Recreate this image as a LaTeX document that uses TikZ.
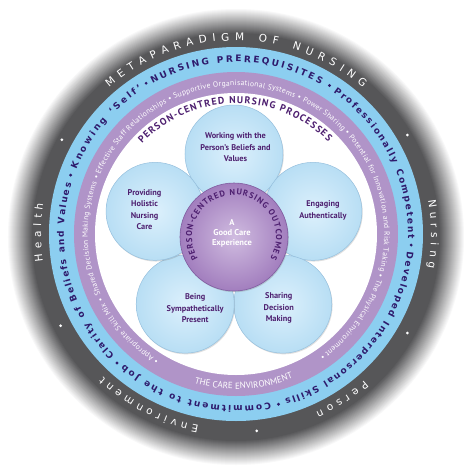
\documentclass[tikz,border=0pt]{standalone}
\usepackage{fontspec}
\setmainfont{PT Sans}
\newfontfamily\ringfont{DejaVu Sans}
\usetikzlibrary{decorations.text,shadows,positioning}

\definecolor{ringgray}{RGB}{86,86,88}
\definecolor{ringblue}{RGB}{140,206,240}
\definecolor{ringlilac}{RGB}{176,148,200}
\definecolor{petallight}{RGB}{220,240,252}
\definecolor{petaldark}{RGB}{184,222,244}
\definecolor{petaledge}{RGB}{150,192,222}
\definecolor{hublight}{RGB}{208,188,224}
\definecolor{hubdark}{RGB}{162,126,190}
\definecolor{hubedge}{RGB}{128,92,160}
\definecolor{inkpurple}{RGB}{78,32,112}
\definecolor{inknavy}{RGB}{46,26,108}

\newcommand\metafmt{\ringfont\fontsize{10.5}{12}\selectfont}
\newcommand\prereqfmt{\ringfont\bfseries\fontsize{9}{11}\selectfont}
\newcommand\carefmt{\fontsize{7.6}{9}\selectfont}
\newcommand\processfmt{\bfseries\fontsize{9.8}{11}\selectfont}
\newcommand\outcomefmt{\bfseries\fontsize{8.5}{10}\selectfont}

\tikzset{
  metaword/.style={decorate, decoration={text along path, text align={fit to path},
      text color=white, text={|\metafmt|#1}}},
  prereqword/.style={decorate, decoration={text along path, text align={fit to path},
      text color=inknavy, text={|\prereqfmt|#1}}},
  careword/.style={decorate, decoration={text along path, text align={fit to path},
      text color=white, text={|\carefmt|#1}}},
  carelabel/.style={decorate, decoration={text along path, text align=center,
      text color=white, text={|\fontsize{9}{10}\selectfont|#1}}},
  processword/.style={decorate, decoration={text along path, text align={fit to path},
      text color=inkpurple, text={|\processfmt|#1}}},
  outcomeword/.style={decorate, decoration={text along path, text align={fit to path},
      text color=inkpurple, text={|\outcomefmt|#1}}},
  petal/.style={circle, minimum size=98pt, inner sep=0pt, draw=petaledge, line width=0.5pt,
      inner color=petallight, outer color=petaldark,
      drop shadow={opacity=0.25, shadow xshift=0.8pt, shadow yshift=-1.2pt}},
  hub/.style={circle, minimum size=108pt, inner sep=0pt, draw=hubedge, line width=0.6pt,
      inner color=hublight, outer color=hubdark,
      drop shadow={opacity=0.3, shadow xshift=0.8pt, shadow yshift=-1.2pt}},
  petaltext/.style={align=center, text=inkpurple, font=\bfseries\fontsize{8.3}{11.5}\selectfont},
  hubtext/.style={align=center, text=white, font=\bfseries\fontsize{8.5}{10}\selectfont}
}

\begin{document}
\begin{tikzpicture}[x=1pt,y=1pt]
\useasboundingbox (-236,-241) rectangle (238,234);
\fill[white] (-236,-241) rectangle (238,234);

% grey rim, soft outer edge
\foreach \k [evaluate=\k as \mixpct using int(4*\k)] in {0,...,25}
  \fill[ringgray!\mixpct!white] (0,-3) circle ({229-\k});
\fill[ringblue] (0,0) circle (187);
\fill[ringlilac] (0,0) circle (162);
\fill[white] (0,0) circle (141);

% metaparadigm
\path[metaword={METAPARADIGM OF NURSING}] (131:193.5) arc[start angle=131, end angle=49, radius=193.5];
\path[metaword={Nursing}] (10:195) arc[start angle=10, end angle=-10, radius=195];
\path[metaword={Person}] (-48.8:195) arc[start angle=-48.8, end angle=-65.8, radius=195];
\path[metaword={Environment}] (-101:195) arc[start angle=-101, end angle=-133, radius=195];
\path[metaword={Health}] (188:195) arc[start angle=188, end angle=171, radius=195];
\foreach \a in {151.6,30,-30,-84,-152.4}
  \fill[white] (\a:198) circle (1.5);

% prerequisites
\path[prereqword={NURSING PREREQUISITES}] (119:172) arc[start angle=119, end angle=60.5, radius=172];
\path[prereqword={Professionally Competent}] (55.5:172) arc[start angle=55.5, end angle=-1.5, radius=172];
\path[prereqword={Developed Interpersonal Skills}] (-6:172) arc[start angle=-6, end angle=-73.5, radius=172];
\path[prereqword={Commitment to the Job}] (-78.5:172) arc[start angle=-78.5, end angle=-130.5, radius=172];
\path[prereqword={Clarity of Beliefs and Values}] (225:172) arc[start angle=225, end angle=163, radius=172];
\path[prereqword={Knowing ‘Self’}] (158:172) arc[start angle=158, end angle=123, radius=172];
\foreach \a in {120.8,57.8,-3.6,-76,-132.7,160.4}
  \fill[inknavy] (\a:175.5) circle (1.6);

% care environment
\path[careword={• Appropriate Skill Mix • Shared Decision Making Systems • Effective Staff Relationships • Supportive Organisational Systems • Power Sharing • Potential for Innovation and Risk Taking • The Physical Environment •}]
  (238.7:148.3) arc[start angle=238.7, end angle=-55.4, radius=148.3];
\path[carelabel={THE CARE ENVIRONMENT}] (-110:155) arc[start angle=-110, end angle=-64, radius=155];

% processes
\path[processword={PERSON-CENTRED NURSING PROCESSES}] (136:130.5) arc[start angle=136, end angle=45, radius=130.5];

\begin{scope}[shift={(-2,-3)}]
  \node[petal] (pTop)   at (90:83)  {};
  \node[petal] (pRight) at (18:83)  {};
  \node[petal] (pLow)   at (-54:83) {};
  \node[petal] (pSym)   at (234:83) {};
  \node[petal] (pLeft)  at (162:83) {};
  \node[hub] (hub) at (0,0) {};
  \path[outcomeword={PERSON-CENTRED NURSING OUTCOMES}] (211:42) arc[start angle=211, end angle=-30, radius=42];
\end{scope}

\node[petaltext] (tTop)   at ([shift={(1.5,6.5)}]pTop)  {Working with the\\Person’s Beliefs and\\Values};
\node[petaltext] (tLeft)  at ([shift={(-10.5,1.5)}]pLeft) {Providing\\Holistic\\Nursing\\Care};
\node[petaltext] (tRight) at ([shift={(10,1)}]pRight)  {Engaging\\Authentically};
\node[petaltext] (tSym)   at ([shift={(10,-4)}]pSym)   {Being\\Sympathetically\\Present};
\node[petaltext] (tLow)   at ([shift={(-4,-4)}]pLow)   {Sharing\\Decision\\Making};
\node[hubtext] (tHub) at ([shift={(-2,4)}]hub) {A\\Good Care\\Experience};
\end{tikzpicture}
\end{document}
